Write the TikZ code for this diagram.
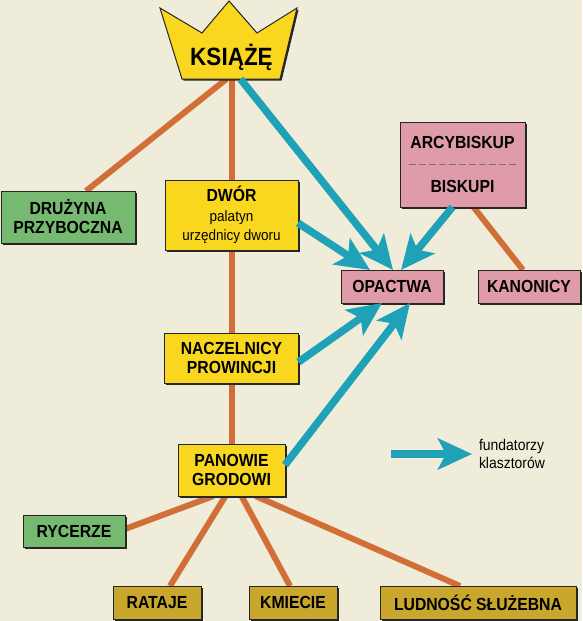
\documentclass[tikz,border=0pt]{standalone}
\usepackage{fontspec}
\setmainfont[FakeStretch=0.9]{Liberation Sans}
\usepackage{xcolor}
\usepackage{tikz}
\usetikzlibrary{positioning, backgrounds, arrows.meta, shadows, calc}

\definecolor{paper}{HTML}{EFEDD9}
\definecolor{linkorange}{HTML}{D26F38}
\definecolor{fundcyan}{HTML}{1FA2B8}
\definecolor{royal}{HTML}{F9D71F}
\definecolor{guard}{HTML}{76B971}
\definecolor{church}{HTML}{E09BA9}
\definecolor{folk}{HTML}{C9A72C}

\newcommand{\minorfont}{\fontsize{15}{17}\selectfont\mdseries}

\begin{document}
\begin{tikzpicture}[x=1pt, y=1pt, node distance=0mm,
  box/.style={draw=black!85, line width=1pt, outer sep=0pt, inner sep=0pt, align=center,
    font=\fontsize{17.5}{19}\selectfont\bfseries,
    drop shadow={shadow xshift=1.6pt, shadow yshift=-1.6pt, fill=black!85, opacity=1}},
  court/.style={box, fill=royal},
  knight/.style={box, fill=guard},
  clergy/.style={box, fill=church, minimum width=102pt, minimum height=33pt},
  peasant/.style={box, fill=folk, minimum height=33pt},
  link/.style={line width=6pt, draw=linkorange},
  founder/.style={line width=7.5pt, draw=fundcyan, -{Stealth[length=34pt, width=31pt, inset=8pt]}}]

  \path[use as bounding box] (0,0) rectangle (582,-621);

  \draw[box, fill=royal] (160,-8) -- (202,-33) -- (229,-1) -- (257,-33) -- (297,-8) -- (280,-79) -- (182,-79) -- cycle;
  \node[outer sep=0pt, minimum width=98pt, minimum height=44pt, font=\fontsize{25}{26}\selectfont\bfseries] (ksiaze) at (231.5,-57) {KSIĄŻĘ};

  \node[court, minimum width=133pt, minimum height=70pt] (dwor) at (231.5,-215) {DWÓR\\[1pt]\minorfont palatyn\\\minorfont urzędnicy dworu};

  \node[knight, left=30pt of dwor, yshift=-2pt, minimum width=134pt, minimum height=52pt] (druzyna) {DRUŻYNA\\PRZYBOCZNA};

  \node[court, below=83pt of dwor, minimum width=134pt, minimum height=50pt] (naczelnicy) {NACZELNICY\\PROWINCJI};

  \node[court, below=61pt of naczelnicy, minimum width=107pt, minimum height=52pt] (panowie) {PANOWIE\\GRODOWI};

  \node[knight, below left=19pt and 53pt of panowie, minimum width=102pt, minimum height=32pt] (rycerze) {RYCERZE};

  \node[peasant, below=90pt of panowie, xshift=-74.5pt, minimum width=88pt] (rataje) {RATAJE};

  \node[peasant, right=48pt of rataje, minimum width=88pt] (kmiecie) {KMIECIE};

  \node[peasant, right=43pt of kmiecie, minimum width=196pt] (ludnosc) {LUDNOŚĆ SŁUŻEBNA};

  \node[clergy] (opactwa) at (392,-286.5) {OPACTWA};

  \node[clergy, right=35pt of opactwa] (kanonicy) {KANONICY};

  \node[clergy, above=63pt of opactwa, xshift=70.5pt, minimum width=125pt, minimum height=85pt] (arcy) {ARCYBISKUP\\[25pt]BISKUPI};

  \coordinate (legstart) at (391,-454);

  \node[right=88pt of legstart, inner sep=0pt, outer sep=0pt, align=left, font=\fontsize{15.5}{18}\selectfont] (fund) {fundatorzy\\klasztorów};

  \draw[dash pattern=on 7pt off 3pt, line width=0.8pt, draw=black!55] ([xshift=9pt]arcy.west) -- ([xshift=-8pt]arcy.east);

  \begin{scope}[on background layer]
    \fill[paper] (0,0) rectangle (582,-621);
    \draw[link] ([xshift=-5pt]ksiaze.south) -- ([xshift=18pt]druzyna.north);
    \draw[link] (ksiaze.south) -- (dwor.north);
    \draw[link] (dwor.south) -- (naczelnicy.north);
    \draw[link] (naczelnicy.south) -- (panowie.north);
    \draw[link] ([xshift=-18pt]panowie.south) -- ([yshift=2pt]rycerze.east);
    \draw[link] ([xshift=-6pt]panowie.south) -- ([xshift=13pt]rataje.north);
    \draw[link] ([xshift=10pt]panowie.south) -- ([xshift=-3pt]kmiecie.north);
    \draw[link] ([xshift=24pt]panowie.south) -- ([xshift=-18pt]ludnosc.north);
    \draw[link] ([xshift=11pt]arcy.south) -- ([xshift=-6pt]kanonicy.north);
  \end{scope}

  \draw[founder] ([xshift=9pt]ksiaze.south) -- ([xshift=1pt]opactwa.north);
  \draw[founder] ([yshift=-8pt]dwor.east) -- ([xshift=-22pt]opactwa.north);
  \draw[founder] ([xshift=-10pt]arcy.south) -- ([xshift=9pt]opactwa.north);
  \draw[founder] ([yshift=-4pt]naczelnicy.east) -- ([xshift=-10pt]opactwa.south);
  \draw[founder] ([yshift=5pt]panowie.east) -- ([xshift=18pt]opactwa.south);
  \draw[founder] (legstart) -- ([xshift=-7pt]fund.west);
\end{tikzpicture}
\end{document}
